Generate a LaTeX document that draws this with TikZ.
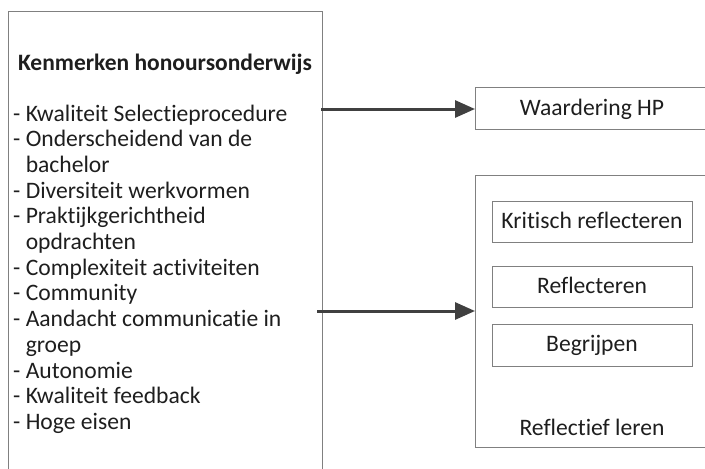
\documentclass[tikz,border=0pt]{standalone}
\usepackage{fontspec}
\setmainfont[RawFeature={-liga}]{Carlito}
\usetikzlibrary{arrows.meta}
\definecolor{boxgray}{RGB}{128,128,128}
\definecolor{arrowgray}{RGB}{64,64,64}
\definecolor{txt}{RGB}{30,30,30}
\begin{document}
\begin{tikzpicture}[x=1pt,y=-1pt,
  box/.style={draw=boxgray, line width=1.3pt, rectangle, inner sep=0pt, anchor=north west},
  lbl/.style={text=txt, font=\fontsize{23.6}{25.7}\selectfont, inner sep=0pt},
  item/.style={lbl, anchor=base west},
  clbl/.style={lbl, anchor=base},
  conn/.style={draw=arrowgray, line width=3pt, -{Triangle[length=20pt,width=17pt]}}]
\clip (0,0) rectangle (705,469);
% left box (open at bottom of picture)
\node[box, minimum width=314pt, minimum height=500pt] (left) at (8,11) {};
\node[clbl, font=\fontsize{23.5}{25.7}\selectfont\bfseries] (title) at (165,70) {Kenmerken honoursonderwijs};
\node[item] (l1) at (13,121) {- Kwaliteit Selectieprocedure};
\node[item] (l2) at (13,146.7) {- Onderscheidend van de};
\node[item] (l3) at (13,172.4) {\phantom{- }bachelor};
\node[item] (l4) at (13,198.1) {- Diversiteit werkvormen};
\node[item] (l5) at (13,223.8) {- Praktijkgerichtheid};
\node[item] (l6) at (13,249.5) {\phantom{- }opdrachten};
\node[item] (l7) at (13,275.2) {- Complexiteit activiteiten};
\node[item] (l8) at (13,300.9) {- Community};
\node[item] (l9) at (13,326.6) {- Aandacht communicatie in};
\node[item] (l10) at (13,352.3) {\phantom{- }groep};
\node[item] (l11) at (13,378) {- Autonomie};
\node[item] (l12) at (13,403.7) {- Kwaliteit feedback};
\node[item] (l13) at (13,429.4) {- Hoge eisen};
% Waardering HP
\node[box, minimum width=260pt, minimum height=42pt] (wbox) at (475,87) {};
\node[clbl] (wtext) at (592,115) {Waardering HP};
% Reflectief leren
\node[box, minimum width=260pt, minimum height=272pt] (rbox) at (475,175) {};
\node[box, minimum width=200pt, minimum height=41pt] (k) at (492,201) {};
\node[clbl] (ktext) at (592,228) {Kritisch reflecteren};
\node[box, minimum width=200pt, minimum height=41pt] (r) at (492,266) {};
\node[clbl] (rtext) at (592,293) {Reflecteren};
\node[box, minimum width=200pt, minimum height=42pt] (b) at (492,324) {};
\node[clbl] (btext) at (592,351) {Begrijpen};
\node[clbl] (rltext) at (592,435) {Reflectief leren};
% connectors
\coordinate (s1) at (321,109);
\coordinate (s2) at (317,311);
\draw[conn] (s1) -- (s1 -| wbox.west);
\draw[conn] (s2) -- (s2 -| rbox.west);
\end{tikzpicture}
\end{document}
